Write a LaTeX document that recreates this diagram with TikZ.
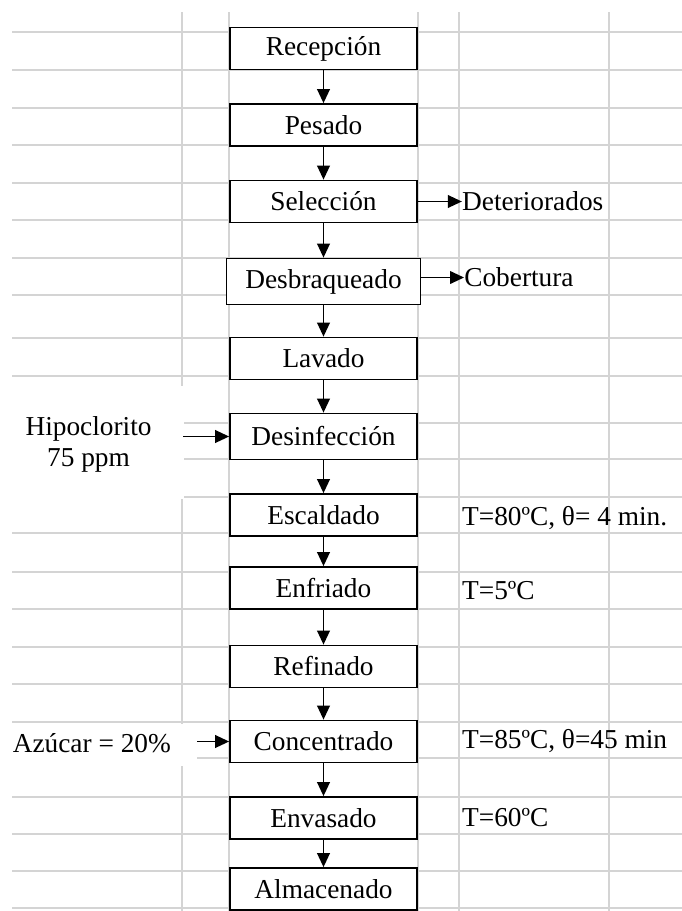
\documentclass[tikz,border=0pt]{standalone}
\usepackage{fontspec}
\setmainfont{Liberation Serif}
\usetikzlibrary{arrows.meta,positioning}

\begin{document}
\begin{tikzpicture}[
  x=0.75pt, y=-0.75pt,
  stage/.style={rectangle, draw, line width=1.3pt, fill=white, minimum width=140.25pt, minimum height=31.5pt, inner sep=2pt, font=\fontsize{20.5}{23.25}\selectfont},
  tall/.style={minimum height=34.5pt},
  note/.style={inner sep=0pt, font=\fontsize{20.5}{23.25}\selectfont},
  arr/.style={-{Triangle[length=10.5pt,width=9.5pt]}, line width=1.3pt},
  cell/.style={line width=1.6pt, color=black!17}
]
  \useasboundingbox (0,0) rectangle (682,911);

  % spreadsheet grid behind the flow
  \foreach \y in {32,70,108,145,183,220,258,295,338,376,423,459,497,533,572,609,647,684,722,758,797,834,871,908}
    \draw[cell] (12,\y) -- (682,\y);
  \foreach \x in {182,229,418,459,609}
    \draw[cell] (\x,12) -- (\x,911);
  \fill[white] (0,386) rectangle (183.5,499);
  \fill[white] (0,723.5) rectangle (197,766);

  % process steps
  \node[stage] (rec) at (323.5,48.5) {Recepción};
  \node[stage] (pes) at (323.5,125) {Pesado};
  \node[stage] (sel) at (323.5,201.5) {Selección};
  \node[stage, tall, minimum width=145.5pt] (des) at (323.5,281.5) {Desbraqueado};
  \node[stage] (lav) at (323.5,358.5) {Lavado};
  \node[stage, tall] (dsi) at (323.5,436.5) {Desinfección};
  \node[stage] (esc) at (323.5,515) {Escaldado};
  \node[stage] (enf) at (323.5,588) {Enfriado};
  \node[stage] (ref) at (323.5,666.5) {Refinado};
  \node[stage] (con) at (323.5,741.5) {Concentrado};
  \node[stage] (env) at (323.5,818) {Envasado};
  \node[stage] (alm) at (323.5,889) {Almacenado};

  \foreach \from/\to in {rec/pes, pes/sel, sel/des, des/lav, lav/dsi, dsi/esc, esc/enf, enf/ref, ref/con, con/env, env/alm}
    \draw[arr] (\from) -- (\to);

  % outputs and conditions on the right
  \node[note, right=33pt of sel] (det) {Deteriorados};
  \node[note, right=32pt of des, yshift=3pt] (cob) {Cobertura};
  \node[note, right=33pt of esc, yshift=-2pt] (escc) {T=80ºC, θ= 4 min.};
  \node[note, right=33pt of enf, yshift=-2pt] (enfc) {T=5ºC};
  \node[note, right=33pt of con] (conc) {T=85ºC, θ=45 min};
  \node[note, right=33pt of env] (envc) {T=60ºC};

  \draw[arr] (sel) -- (det);
  \draw[arr] (cob.west -| des.east) -- (cob.west);

  % inputs on the left
  \coordinate[left=34.5pt of dsi.west] (hipin);
  \node[note, align=center, left=23.5pt of hipin, yshift=-5.6pt] (hip) {Hipoclorito\\75 ppm};
  \draw[arr] (hipin) -- (dsi.west);

  \coordinate[left=24pt of con.west] (azuin);
  \node[note, left=19.5pt of azuin, yshift=-1.5pt] (azu) {Azúcar = 20\%};
  \draw[arr] (azuin) -- (con.west);
\end{tikzpicture}
\end{document}
